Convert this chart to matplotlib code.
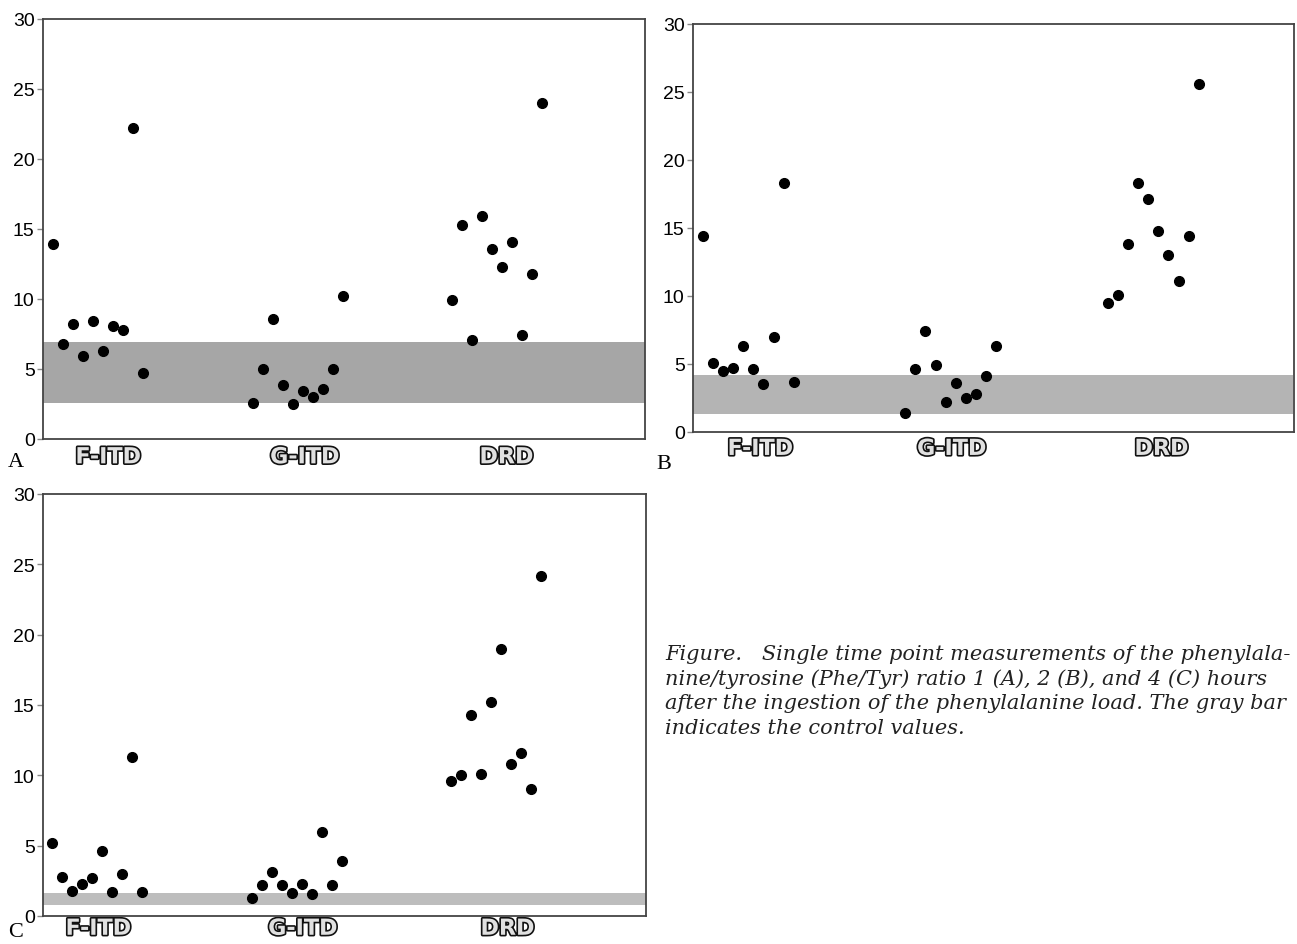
import numpy as np
import matplotlib.pyplot as plt
import matplotlib.patheffects as pe

# group names and the slot positions of the points in each group
groups = ['F-ITD', 'G-ITD', 'DRD']
f_itd_x = [0, 1, 2, 3, 4, 5, 6, 7, 8, 9]
g_itd_x = [20, 21, 22, 23, 24, 25, 26, 27, 28, 29]
drd_x = [40, 41, 42, 43, 44, 45, 46, 47, 48, 49]

# Phe/Tyr ratio, 1 hour (A)
a_f_itd = [13.9, 6.8, 8.2, 5.9, 8.4, 6.3, 8.1, 7.8, 22.2, 4.7]
a_g_itd = [2.6, 5.0, 8.6, 3.85, 2.5, 3.4, 3.0, 3.6, 5.0, 10.2]
a_drd = [9.9, 15.3, 7.1, 15.9, 13.6, 12.3, 14.1, 7.4, 11.8, 24.0]
a_band = (2.55, 6.9)

# 2 hours (B)
b_f_itd = [14.4, 5.1, 4.5, 4.7, 6.3, 4.6, 3.5, 7.0, 18.3, 3.7]
b_g_itd = [1.4, 4.6, 7.4, 4.9, 2.2, 3.6, 2.5, 2.8, 4.1, 6.3]
b_drd = [9.5, 10.1, 13.8, 18.3, 17.1, 14.8, 13.0, 11.1, 14.4, 25.6]
b_band = (1.3, 4.2)

# 4 hours (C)
c_f_itd = [5.2, 2.8, 1.8, 2.3, 2.7, 4.6, 1.7, 3.0, 11.3, 1.7]
c_g_itd = [1.3, 2.2, 3.15, 2.2, 1.6, 2.3, 1.55, 6.0, 2.2, 3.9]
c_drd = [9.6, 10.0, 14.3, 10.1, 15.2, 19.0, 10.8, 11.6, 9.0, 24.2]
c_band = (0.75, 1.65)

yticks = [0, 5, 10, 15, 20, 25, 30]

caption = ("Figure.   Single time point measurements of the phenylala-\n"
           "nine/tyrosine (Phe/Tyr) ratio 1 (A), 2 (B), and 4 (C) hours\n"
           "after the ingestion of the phenylalanine load. The gray bar\n"
           "indicates the control values.")

fig = plt.figure(figsize=(12.97, 9.45), dpi=100)


def panel(rect, xlim, vals, band, band_color, label_pos, letter, letter_xy, pad):
    ax = fig.add_axes(rect)
    ax.set_xlim(xlim)
    ax.set_ylim(0, 30)
    ax.fill_between([xlim[0], xlim[1] - 0.05], band[0], band[1],
                    color=band_color, lw=0, zorder=1)
    for xs, ys in zip([f_itd_x, g_itd_x, drd_x], vals):
        ax.plot(xs, ys, 'o', color='black', markersize=7, zorder=3)
    for s in ax.spines.values():
        s.set_color('#444444')
        s.set_linewidth(1.3)
    ax.set_yticks(yticks)
    ax.set_yticklabels([str(t) for t in yticks], family='Liberation Sans',
                       fontsize=14)
    ax.tick_params(axis='y', direction='out', length=4, width=1,
                   color='#888888', pad=2)
    ax.set_xticks(label_pos)
    ax.set_xticklabels(groups, fontsize=16, fontweight='bold',
                       color='#e0e0e0', family='DejaVu Sans')
    for t in ax.get_xticklabels():
        t.set_path_effects([pe.withStroke(linewidth=2.4, foreground='#111111')])
    ax.tick_params(axis='x', length=0, pad=pad)
    fig.text(letter_xy[0] / 1297, 1 - letter_xy[1] / 945, letter,
             family='Liberation Serif', fontsize=16, ha='center', va='center')
    return ax


panel([43 / 1297, 505 / 945, 602 / 1297, 420 / 945], (-1.04, 59.3),
      [a_f_itd, a_g_itd, a_drd], a_band, '#a6a6a6',
      [5.5, 25.2, 45.4], 'A', (16, 463), 6)
panel([693 / 1297, 512 / 945, 601 / 1297, 408 / 945], (-0.95, 58.4),
      [b_f_itd, b_g_itd, b_drd], b_band, '#b4b4b4',
      [5.7, 24.6, 45.3], 'B', (664, 465), 5)
panel([43 / 1297, 28 / 945, 603 / 1297, 422 / 945], (-0.95, 59.5),
      [c_f_itd, c_g_itd, c_drd], c_band, '#bdbdbd',
      [4.6, 25.1, 45.6], 'C', (16, 933), 2)

fig.text(665 / 1297, 1 - 645 / 945, caption, family='DejaVu Serif',
         style='italic', fontsize=15, ha='left', va='top', linespacing=1.35,
         color='#222222')

fig.savefig('out.png', dpi=100)
